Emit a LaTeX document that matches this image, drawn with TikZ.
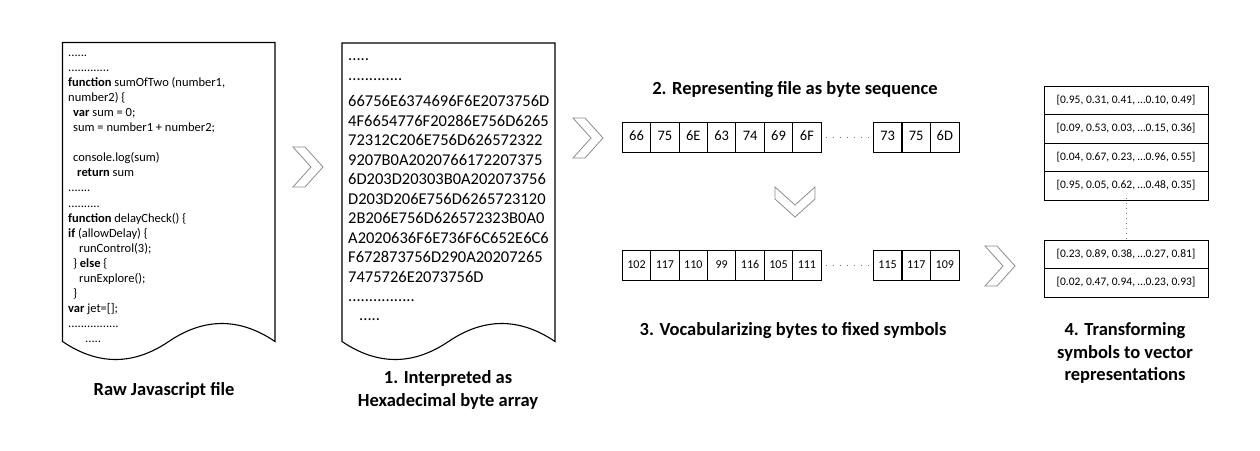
\documentclass[tikz,border=0pt]{standalone}
\usepackage{fontspec}
\setmainfont{Carlito}
\begin{document}
\begin{tikzpicture}[x=1pt,y=-1pt,
 code/.style={font=\fontsize{12.5}{15}\selectfont, anchor=base west, inner sep=0pt},
 hex/.style={font=\fontsize{16.5}{19}\selectfont, anchor=base west, inner sep=0pt},
 lbl/.style={font=\fontsize{18.5}{22.5}\selectfont\bfseries, align=center, inner sep=0pt},
 doc/.style={draw=black, line width=1.1pt, line join=miter},
 chev/.style={draw=black!45, line width=0.8pt, line join=miter},
 byteA/.style={draw, line width=1pt, minimum width=28.4pt, minimum height=30pt, inner sep=0pt, text height=1.45ex, text depth=0.1ex, font=\fontsize{14.5}{16}\selectfont},
 byteB/.style={byteA, font=\fontsize{12}{14}\selectfont},
 vec/.style={draw, line width=1pt, minimum width=164pt, minimum height=28.5pt, inner sep=0pt, text height=1.6ex, text depth=0.4ex, font=\fontsize{11.5}{13}\selectfont},
 dotsep/.style={draw=black!55, line width=1pt, dash pattern=on 1pt off 6pt}
]
\useasboundingbox (0,0) rectangle (1260,450);

% ---------- document 1 ----------
\draw[doc] (62.5,341.5) -- (62.5,42.5) -- (275,42.5) -- (275,341.5)
  .. controls (239.6,317.5) and (204.2,317.5) .. (168.75,341.5)
  .. controls (133.3,365.5) and (97.9,365.5) .. (62.5,341.5) -- cycle;
\node[code] (c1)  at (68,56)    {......};
\node[code] (c2)  at (68,71.1)  {.............};
\node[code] (c3)  at (68,86.2)  {\textbf{function} sumOfTwo (number1,};
\node[code] (c4)  at (68,101.3) {number2) \{};
\node[code] (c5)  at (73,116.4) {\textbf{var} sum = 0;};
\node[code] (c6)  at (73,131.5) {sum = number1 + number2;};
\node[code] (c8)  at (73,161.7) {console.log(sum)};
\node[code] (c9)  at (77,176.8) {\textbf{return} sum};
\node[code] (c10) at (68,191.9) {.......};
\node[code] (c11) at (68,207)   {..........};
\node[code] (c12) at (68,222.1) {\textbf{function} delayCheck() \{};
\node[code] (c13) at (68,237.2) {\textbf{if} (allowDelay) \{};
\node[code] (c14) at (79,252.3) {runControl(3);};
\node[code] (c15) at (73,267.4) {\} \textbf{else} \{};
\node[code] (c16) at (79,282.5) {runExplore();};
\node[code] (c17) at (73,297.6) {\}};
\node[code] (c18) at (68,312.7) {\textbf{var} jet=[];};
\node[code] (c19) at (68,327.8) {................};
\node[code] (c20) at (85,342.9) {.....};

% ---------- document 2 ----------
\draw[doc] (342,341.5) -- (342,43) -- (555,43) -- (555,341.5)
  .. controls (519.5,317.5) and (484,317.5) .. (448.5,341.5)
  .. controls (413,365.5) and (377.5,365.5) .. (342,341.5) -- cycle;
\node[hex] (h0a) at (348,60)    {.....};
\node[hex] (h0b) at (348,80)    {.............};
\node[hex] (h1)  at (348,106.5) {66756E6374696F6E2073756D};
\node[hex] (h2)  at (348,126)   {4F6654776F20286E756D6265};
\node[hex] (h3)  at (348,145.5) {72312C206E756D626572322};
\node[hex] (h4)  at (348,165)   {9207B0A2020766172207375};
\node[hex] (h5)  at (348,184.5) {6D203D20303B0A202073756};
\node[hex] (h6)  at (348,204)   {D203D206E756D6265723120};
\node[hex] (h7)  at (348,223.5) {2B206E756D626572323B0A0};
\node[hex] (h8)  at (348,243)   {A2020636F6E736F6C652E6C6};
\node[hex] (h9)  at (348,262.5) {F672873756D290A20207265};
\node[hex] (h10) at (348,282)   {7475726E2073756D};
\node[hex] (h11) at (348,301)   {................};
\node[hex] (h12) at (359,320)   {.....};

% ---------- chevrons ----------
\draw[chev] (293,147) -- ++(12,0) -- ++(18,20) -- ++(-18,20) -- ++(-12,0) -- ++(18,-20) -- cycle;
\draw[chev] (573,118) -- ++(12,0) -- ++(18,20) -- ++(-18,20) -- ++(-12,0) -- ++(18,-20) -- cycle;
\draw[chev] (985,246) -- ++(12,0) -- ++(18,20) -- ++(-18,20) -- ++(-12,0) -- ++(18,-20) -- cycle;
\draw[chev] (775,187) -- ++(20,18) -- ++(20,-18) -- ++(0,12) -- ++(-20,18) -- ++(-20,-18) -- cycle;

% ---------- byte rows ----------
\foreach \t [count=\i] in {66,75,6E,63,74,69,6F}
  \node[byteA] (a\i) at ({636.5+28.4*(\i-1)},137.3) {\t};
\foreach \t [count=\i from 8] in {73,75,6D}
  \node[byteA] (a\i) at ({887.6+28.6*(\i-8)},137.3) {\t};
\draw[dotsep] ([xshift=4pt]a7.east) -- ([xshift=-3pt]a8.west);

\foreach \t [count=\i] in {102,117,110,99,116,105,111}
  \node[byteB] (b\i) at ({636.5+28.4*(\i-1)},265) {\t};
\foreach \t [count=\i from 8] in {115,117,109}
  \node[byteB] (b\i) at ({887.6+28.6*(\i-8)},265) {\t};
\draw[dotsep] ([xshift=4pt]b7.east) -- ([xshift=-3pt]b8.west);

% ---------- vectors ----------
\node[vec] (v1) at (1126,100.25) {[0.95, 0.31, 0.41, …0.10, 0.49]};
\node[vec] (v2) at (1126,128.75) {[0.09, 0.53, 0.03, …0.15, 0.36]};
\node[vec] (v3) at (1126,157.25) {[0.04, 0.67, 0.23, …0.96, 0.55]};
\node[vec] (v4) at (1126,185.75) {[0.95, 0.05, 0.62, …0.48, 0.35]};
\node[vec] (v5) at (1126,254.25) {[0.23, 0.89, 0.38, …0.27, 0.81]};
\node[vec] (v6) at (1126,282.75) {[0.02, 0.47, 0.94, …0.23, 0.93]};
\draw[draw=black!55, line width=1pt, dash pattern=on 1pt off 4pt] ([yshift=3pt]v4.south) -- (v5.north);

% ---------- labels ----------
\node[lbl] (l0) at (164,390) {Raw Javascript file};
\node[lbl] (l1) at (448,390) {1. Interpreted as\\Hexadecimal byte array};
\node[lbl] (l2) at (795,90)  {2. Representing file as byte sequence};
\node[lbl] (l3) at (793,331) {3. Vocabularizing bytes to fixed symbols};
\node[lbl] (l4) at (1125,353) {4. Transforming\\symbols to vector\\representations};
\end{tikzpicture}
\end{document}
